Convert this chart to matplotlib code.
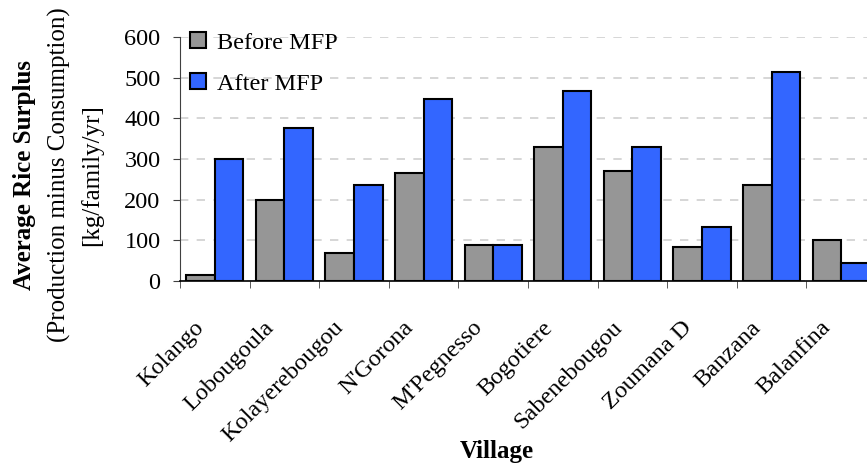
import numpy as np
import matplotlib
matplotlib.use('Agg')
import matplotlib.pyplot as plt
import matplotlib.transforms as mtransforms

plt.rcParams["font.family"] = "Liberation Serif"

villages = ['Kolango', 'Lobougoula', 'Kolayerebougou', "N'Gorona", "M'Pegnesso",
            'Bogotiere', 'Sabenebougou', 'Zoumana D', 'Banzana', 'Balanfina']
before = [14, 200, 70, 266, 88, 330, 270, 84, 236, 100]
after = [300, 375, 236, 447, 88, 467, 330, 134, 515, 45]
yticks = [0, 100, 200, 300, 400, 500, 600]

fs = 17.5
fig = plt.figure(figsize=(8.67, 4.69), dpi=100)
ax = fig.add_axes([180/867, 1-281/469, 696/867, 244/469])

x = np.arange(len(villages))
w = 0.41
ax.bar(x - w/2, before, w, color='#969696', edgecolor='black', linewidth=1.5,
       label='Before MFP', zorder=3)
ax.bar(x + w/2, after, w, color='#3366ff', edgecolor='black', linewidth=1.5,
       label='After MFP', zorder=3)

ax.set_xlim(-0.5, len(villages) - 0.5)
ax.set_ylim(0, 600)
ax.set_yticks(yticks)
ax.set_yticklabels([str(v) for v in yticks], fontsize=fs)
ax.set_xticks(x)
ax.set_xticklabels(villages, fontsize=fs, rotation=45, ha='right', va='top',
                   rotation_mode='anchor')
ax.set_xticks(np.arange(len(villages) + 1) - 0.5, minor=True)
ax.tick_params(axis='x', which='major', length=0, pad=8)
ax.tick_params(axis='x', which='minor', length=5, direction='out', color='#404040')
ax.tick_params(axis='y', length=5, direction='out', color='#404040', pad=9)

# push the rotated village names down and left like the original
shift = mtransforms.ScaledTranslation(-0.21, -0.25, fig.dpi_scale_trans)
for lab in ax.get_xticklabels():
    lab.set_transform(lab.get_transform() + shift)

ax.yaxis.grid(True, linestyle=(0, (5, 5)), color='#d0d0d0', linewidth=1.2, zorder=0)
for s in ['top', 'right']:
    ax.spines[s].set_visible(False)
ax.spines['left'].set_color('#404040')
ax.spines['bottom'].set_color('black')
ax.spines['bottom'].set_linewidth(1.2)

leg = ax.legend(loc='upper left', bbox_to_anchor=(0.015, 1.02), frameon=False,
                fontsize=fs, handlelength=0.65, handleheight=0.65,
                handletextpad=0.45, labelspacing=0.8, borderpad=0,
                borderaxespad=0)

yl = 1 - 175/469
fig.text(25/867, yl, 'Average Rice Surplus', rotation=90, ha='center',
         va='center', fontsize=18, fontweight='bold')
fig.text(59/867, yl, '(Production minus Consumption)', rotation=90,
         ha='center', va='center', fontsize=18)
fig.text(92/867, yl, '[kg/family/yr]', rotation=90, ha='center',
         va='center', fontsize=18)
fig.text(497/867, 1-451/469, 'Village', ha='center', va='center',
         fontsize=18, fontweight='bold')

fig.savefig('out.png', dpi=100)
